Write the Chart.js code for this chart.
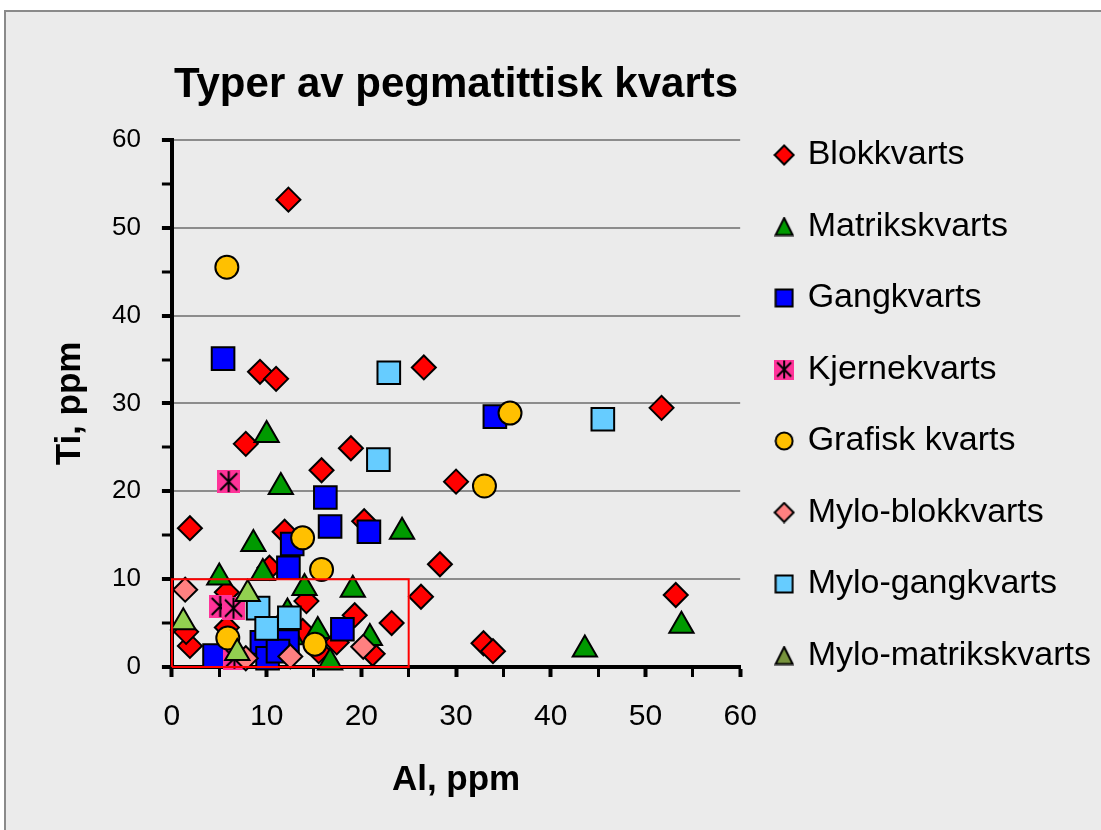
<!DOCTYPE html>
<html>
<head>
<meta charset="utf-8">
<script src="https://cdn.jsdelivr.net/npm/chart.js@4"></script>
<style>
  body { margin: 0; background: #fff; }
  #frame { position: absolute; left: 4px; top: 10px; width: 1110px; height: 840px; background: #ebebeb; border: 2px solid #8a8a8a; }
  #wrap { position: absolute; left: 0; top: 0; width: 1101px; height: 830px; }
</style>
</head>
<body>
<div id="frame"></div>
<div id="wrap"><canvas id="chart" width="1101" height="830"></canvas></div>
<script>
// [Al ppm, Ti ppm]
const blokkvarts = [
  [12.3, 53.2], [9.3, 33.6], [11.0, 32.8], [26.6, 34.1], [51.7, 29.5], [7.8, 25.4],
  [18.9, 24.9], [15.8, 22.4], [30.0, 21.1], [1.9, 15.8], [11.9, 15.4], [20.3, 16.6],
  [28.3, 11.7], [26.3, 8.0], [23.2, 5.0], [32.9, 2.7], [33.9, 1.8], [53.2, 8.2],
  [19.3, 5.9], [21.2, 1.5], [14.2, 7.5], [1.9, 2.4], [1.5, 4.0], [5.8, 8.5],
  [10.3, 11.3], [13.8, 4.1], [17.4, 2.8], [15.5, 1.8], [5.8, 4.5]
];
const matrikskvarts = [
  [10.0, 26.4], [11.5, 20.5], [8.6, 14.0], [24.3, 15.4], [5.0, 10.2], [9.6, 10.7],
  [14.0, 9.0], [19.1, 8.8], [15.4, 4.1], [20.9, 3.3], [16.7, 0.5], [12.2, 6.2],
  [12.6, 3.4], [43.6, 2.0], [53.8, 4.7]
];
const gangkvarts = [
  [5.4, 35.1], [34.1, 28.5], [16.2, 19.3], [16.7, 16.0], [20.8, 15.4], [12.7, 14.0],
  [12.3, 11.3], [18.0, 4.3], [4.5, 1.3], [9.5, 2.8], [10.1, 1.0], [12.2, 2.9], [11.2, 1.8]
];
const kjernekvarts = [[6.0, 21.1], [5.1, 6.9], [6.5, 6.7], [6.6, 1.0]];
const grafiskKvarts = [
  [5.8, 45.5], [35.7, 28.9], [33.0, 20.6], [13.8, 14.7], [15.8, 11.1], [5.9, 3.3], [15.1, 2.6]
];
const myloBlokkvarts = [[1.4, 8.8], [12.5, 1.2], [20.2, 2.3], [7.8, 1.0]];
const myloGangkvarts = [
  [22.9, 33.5], [21.8, 23.6], [45.5, 28.2], [9.1, 6.7], [10.0, 4.4], [12.4, 5.6]
];
const myloMatrikskvarts = [[8.0, 8.3], [1.2, 5.1], [6.9, 1.6]];
// outline of the marked low-Al/low-Ti field
const markedField = [[0, 0], [0, 10], [25, 10], [25, 0], [0, 0]];

const FONT = "'Liberation Sans', Arial, sans-serif";

// small canvas markers (legend icons, and the Kjernekvarts symbol)
function icon(kind, fill, size) {
  const c = document.createElement("canvas");
  c.width = size; c.height = size;
  const g = c.getContext("2d");
  const m = size / 2, h = size / 2 - 1.5;
  g.fillStyle = fill;
  g.strokeStyle = "#000";
  g.lineWidth = 2;
  g.beginPath();
  if (kind === "diamond") {
    g.moveTo(m, m - h); g.lineTo(m + h, m); g.lineTo(m, m + h); g.lineTo(m - h, m); g.closePath();
  } else if (kind === "triangle") {
    g.moveTo(m, 1.5); g.lineTo(size - 1.5, size - 1.5); g.lineTo(1.5, size - 1.5); g.closePath();
  } else if (kind === "square") {
    g.rect(1.5, 1.5, size - 3, size - 3);
  } else if (kind === "circle") {
    g.arc(m, m, h, 0, Math.PI * 2);
  }
  if (kind === "star") {
    g.fillRect(0, 0, size, size);
    g.beginPath();
    g.moveTo(3, 3); g.lineTo(size - 3, size - 3);
    g.moveTo(size - 3, 3); g.lineTo(3, size - 3);
    g.moveTo(m, 1); g.lineTo(m, size - 1);
    g.stroke();
    return c;
  }
  g.fill();
  g.stroke();
  return c;
}

const series = [
  { label: "Blokkvarts", data: blokkvarts, style: "rectRot", r: 12, color: "#ff0000", icon: "diamond" },
  { label: "Matrikskvarts", data: matrikskvarts, style: "triangle", r: 14, color: "#009a00", icon: "triangle" },
  { label: "Gangkvarts", data: gangkvarts, style: "rect", r: 16, color: "#0000ff", icon: "square" },
  { label: "Kjernekvarts", data: kjernekvarts, style: icon("star", "#ff3399", 23), r: 11, color: "#ff3399", icon: "star" },
  { label: "Grafisk kvarts", data: grafiskKvarts, style: "circle", r: 11.5, color: "#ffc000", icon: "circle" },
  { label: "Mylo-blokkvarts", data: myloBlokkvarts, style: "rectRot", r: 12, color: "#ff8080", icon: "diamond" },
  { label: "Mylo-gangkvarts", data: myloGangkvarts, style: "rect", r: 16, color: "#66ccff", icon: "square" },
  { label: "Mylo-matrikskvarts", data: myloMatrikskvarts, style: "triangle", r: 14, color: "#92d050", icon: "triangle" }
];
const legendColors = ["#ff0000", "#009a00", "#0000ff", "#ff3399", "#ffc000", "#ff8080", "#66ccff", "#77933c"];

const datasets = series.map((s, i) => ({
  label: s.label,
  data: s.data.map(p => ({ x: p[0], y: p[1] })),
  pointStyle: s.style,
  pointRadius: s.r,
  pointHoverRadius: s.r,
  backgroundColor: s.color,
  borderColor: "#000",
  borderWidth: 2,
  clip: false,
  order: 10 - i
}));
datasets.push({
  label: "_field",
  data: markedField.map(p => ({ x: p[0], y: p[1] })),
  showLine: true,
  borderColor: "#ff0000",
  borderWidth: 2,
  pointRadius: 0,
  fill: false,
  clip: false,
  order: 0
});

const tickColorFn = () => "#000";

new Chart(document.getElementById("chart").getContext("2d"), {
  type: "scatter",
  data: { datasets: datasets },
  options: {
    responsive: false,
    animation: false,
    layout: { padding: { top: 9.5, bottom: 29, left: 0, right: 0 } },
    plugins: {
      tooltip: { enabled: false },
      title: {
        display: true,
        text: "Typer av pegmatittisk kvarts",
        fullSize: false,
        color: "#000",
        font: { family: FONT, size: 42, weight: "bold" },
        padding: { top: 51, bottom: 29 }
      },
      legend: {
        position: "right",
        align: "center",
        maxWidth: 400,
        labels: {
          usePointStyle: true,
          boxWidth: 13,
          boxHeight: 34,
          padding: 37.5,
          color: "#000",
          font: { family: FONT, size: 34 },
          generateLabels: () => series.map((s, i) => ({
            text: s.label,
            fillStyle: s.color,
            strokeStyle: "#000",
            lineWidth: 2,
            pointStyle: icon(s.icon, legendColors[i], s.icon === "diamond" ? 22 : 20),
            hidden: false,
            datasetIndex: i,
            fontColor: "#000"
          }))
        }
      }
    },
    scales: {
      x: {
        type: "linear",
        min: 0,
        max: 60,
        border: { color: "#000", width: 4 },
        grid: {
          drawOnChartArea: false,
          tickLength: 10,
          tickColor: tickColorFn,
          tickWidth: c => (c.tick && c.tick.value % 10 === 0 ? 4 : 3)
        },
        ticks: {
          stepSize: 5,
          autoSkip: false,
          maxRotation: 0,
          padding: 22,
          color: "#000",
          font: { family: FONT, size: 30 },
          callback: v => (v % 10 === 0 ? v : "")
        },
        title: {
          display: true,
          text: "Al, ppm",
          color: "#000",
          font: { family: FONT, size: 35, weight: "bold" },
          padding: { top: 2, bottom: 0 }
        }
      },
      y: {
        type: "linear",
        min: 0,
        max: 60,
        border: { color: "#000", width: 4 },
        grid: {
          color: c => (c.tick && c.tick.value > 0 && c.tick.value % 10 === 0 ? "#8c8c8c" : "rgba(0,0,0,0)"),
          lineWidth: 2,
          tickLength: 10,
          tickColor: tickColorFn,
          tickWidth: c => (c.tick && c.tick.value % 10 === 0 ? 4 : 3)
        },
        ticks: {
          stepSize: 5,
          autoSkip: false,
          padding: 21,
          color: "#000",
          font: { family: FONT, size: 26 },
          callback: v => (v % 10 === 0 ? v : "")
        },
        title: {
          display: true,
          text: "Ti, ppm",
          color: "#000",
          font: { family: FONT, size: 35, weight: "bold" },
          padding: { top: 49, bottom: 0 }
        }
      }
    }
  }
});
</script>
</body>
</html>
